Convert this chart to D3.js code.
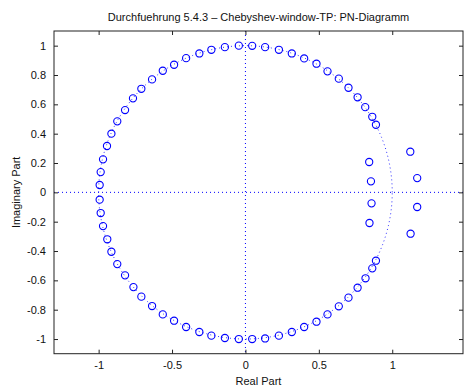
<!DOCTYPE html>
<html><head><meta charset="utf-8">
<script src="https://cdn.jsdelivr.net/npm/d3@7"></script>
<style>body{margin:0;background:#fff}svg{display:block}text{font-family:"Liberation Sans",Arial,sans-serif}</style>
</head><body><svg id="c" width="473" height="390"></svg>
<script>
// Zeros (real, imaginary)
const zerosRe = [
 -0.993,-0.986,-0.970,-0.943,-0.913,-0.873,-0.820,-0.766,-0.709,-0.636,-0.563,-0.486,-0.404,-0.314,-0.232,-0.140,-0.045,
  0.046, 0.134, 0.228, 0.316, 0.400, 0.484, 0.559, 0.636, 0.702, 0.764, 0.816, 0.864, 0.889, 0.843, 0.855, 1.123, 1.170,
 -0.993,-0.986,-0.970,-0.941,-0.913,-0.873,-0.820,-0.763,-0.709,-0.636,-0.563,-0.486,-0.404,-0.314,-0.232,-0.140,-0.045,
  0.046, 0.134, 0.228, 0.316, 0.400, 0.484, 0.559, 0.636, 0.702, 0.764, 0.818, 0.864, 0.889, 0.845, 0.859, 1.170, 1.125
];
const zerosIm = [
  0.050, 0.138, 0.225, 0.316, 0.400, 0.484, 0.561, 0.641, 0.706, 0.770, 0.829, 0.870, 0.915, 0.947, 0.972, 0.990, 1.000,
  0.999, 0.990, 0.972, 0.947, 0.913, 0.877, 0.825, 0.775, 0.713, 0.648, 0.581, 0.515, 0.461, 0.207, 0.075, 0.277, 0.097,
 -0.050,-0.141,-0.230,-0.320,-0.405,-0.489,-0.566,-0.646,-0.711,-0.775,-0.832,-0.875,-0.918,-0.952,-0.977,-0.993,-1.000,
 -1.000,-0.996,-0.977,-0.952,-0.918,-0.882,-0.832,-0.777,-0.718,-0.650,-0.586,-0.518,-0.466,-0.209,-0.075,-0.100,-0.282
];
const xTicks = [-1, -0.5, 0, 0.5, 1];
const yTicks = [-1, -0.8, -0.6, -0.4, -0.2, 0, 0.2, 0.4, 0.6, 0.8, 1];
const xDomain = [-1.304, 1.482];
const yDomain = [-1.1, 1.1];
const titleText = "Durchfuehrung 5.4.3 \u2013 Chebyshev-window-TP: PN-Diagramm";
const xLabel = "Real Part";
const yLabel = "Imaginary Part";

const L = 54, R = 463, T = 31, B = 353.7;
const svg = d3.select("#c");
const x = d3.scaleLinear().domain(xDomain).range([L, R]);
const y = d3.scaleLinear().domain(yDomain).range([B, T]);
const blue = "#0000ff";
const fmt = d => String(d);

// dotted reference lines
const g = svg.append("g");
g.append("line").attr("x1", L).attr("x2", R).attr("y1", y(0)).attr("y2", y(0))
 .attr("stroke", blue).attr("stroke-width", 1).attr("stroke-dasharray", "1,3");
g.append("line").attr("x1", x(0)).attr("x2", x(0)).attr("y1", T).attr("y2", B)
 .attr("stroke", blue).attr("stroke-width", 1).attr("stroke-dasharray", "1,3");
// unit circle
const angles = d3.range(0, 361, 1);
g.append("path")
 .attr("d", d3.line().x(a => x(Math.cos(a*Math.PI/180))).y(a => y(Math.sin(a*Math.PI/180)))(angles))
 .attr("fill", "none").attr("stroke", blue).attr("stroke-width", 1).attr("stroke-dasharray", "1,3").attr("opacity", 0.8);

// zeros
g.selectAll("circle.z").data(zerosRe.map((r, i) => [r, zerosIm[i]])).enter().append("circle")
 .attr("class", "z").attr("cx", d => x(d[0])).attr("cy", d => y(d[1])).attr("r", 3.6)
 .attr("fill", "none").attr("stroke", blue).attr("stroke-width", 1.1);

// axes (ticks inside, box)
const tickLen = 4;
const ax = d3.axisBottom(x).tickValues(xTicks).tickSizeInner(-tickLen).tickSizeOuter(0).tickPadding(8).tickFormat(fmt);
const ay = d3.axisLeft(y).tickValues(yTicks).tickSizeInner(-tickLen).tickSizeOuter(0).tickPadding(8).tickFormat(fmt);
const axT = d3.axisTop(x).tickValues(xTicks).tickSizeInner(-tickLen).tickSizeOuter(0).tickFormat("");
const ayR = d3.axisRight(y).tickValues(yTicks).tickSizeInner(-tickLen).tickSizeOuter(0).tickFormat("");
function style(sel){
  sel.select(".domain").remove();
  sel.selectAll("line").attr("stroke", "#222");
  sel.selectAll("text").attr("fill", "#111").style("font-size", "11px").style("font-family", '"Liberation Sans",Arial,sans-serif');
}
svg.append("g").attr("transform", `translate(0,${B})`).call(ax).call(style);
svg.append("g").attr("transform", `translate(${L},0)`).call(ay).call(style);
svg.append("g").attr("transform", `translate(0,${T})`).call(axT).call(style);
svg.append("g").attr("transform", `translate(${R},0)`).call(ayR).call(style);
svg.append("rect").attr("x", L).attr("y", T).attr("width", R - L).attr("height", B - T)
 .attr("fill", "none").attr("stroke", "#222").attr("stroke-width", 1);

svg.append("text").attr("x", (L + R) / 2).attr("y", 21).attr("text-anchor", "middle")
 .style("font-size", "11px").attr("fill", "#111").text(titleText);
svg.append("text").attr("x", (L + R) / 2).attr("y", 385).attr("text-anchor", "middle")
 .style("font-size", "11px").attr("fill", "#111").text(xLabel);
svg.append("text").attr("transform", `translate(20,${(T + B) / 2}) rotate(-90)`).attr("text-anchor", "middle")
 .style("font-size", "11px").attr("fill", "#111").text(yLabel);
</script></body></html>
